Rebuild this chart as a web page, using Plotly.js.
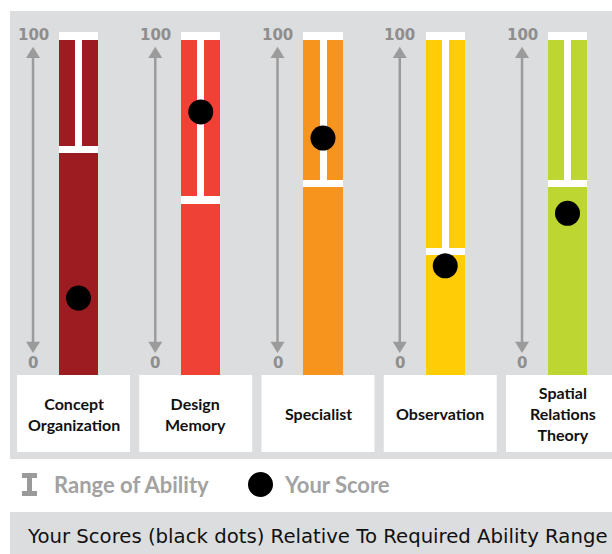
<!DOCTYPE html>
<html>
<head>
<meta charset="utf-8">
<script src="https://cdn.plot.ly/plotly-3.0.1.min.js"></script>
<style>
  html, body { margin: 0; padding: 0; background: #ffffff; }
  #chart { width: 612px; height: 554px; }
</style>
</head>
<body>
<div id="chart"></div>
<script>
// ---- data ----
const categories = ['Concept<br>Organization', 'Design<br>Memory', 'Specialist', 'Observation', 'Spatial<br>Relations<br>Theory'];
const rangeLow = [66.5, 51.6, 56.5, 36.5, 56.5];
const rangeHigh = [100, 100, 100, 100, 100];
const yourScore = [22.7, 77.6, 69.9, 32.2, 47.7];
const tickValues = [0, 100];
const tickLabels = ['0', '100'];
const legendLabels = ['Range of Ability', 'Your Score'];
const chartTitle = 'Your Scores (black dots) Relative To Required Ability Range';

// ---- styles ----
const barColors = ['#9d1c21', '#ef4136', '#f7941d', '#ffcc05', '#bdd631'];
const panelGray = '#dcdddf';
const arrowGray = '#9b9b9b';
const W = 612, H = 554;
const px = v => v / W;
const py = v => 1 - v / H;

const idx = categories.map((_, i) => i);
const barW = 0.323, stemW = 0.0573;

const traces = [
  { type: 'bar', x: idx, y: rangeHigh, base: idx.map(() => 0), width: barW,
    marker: { color: barColors, line: { width: 0 } }, hoverinfo: 'skip', showlegend: false },
  { type: 'bar', x: idx, y: rangeHigh.map((h, i) => h - rangeLow[i]), base: rangeLow, width: stemW,
    marker: { color: '#ffffff', line: { width: 0 } }, hoverinfo: 'skip', showlegend: false },
  { type: 'bar', x: idx, y: rangeHigh.map(() => 2.4), base: rangeHigh.map(h => h - 1.2), width: barW,
    marker: { color: '#ffffff', line: { width: 0 } }, hoverinfo: 'skip', showlegend: false },
  { type: 'bar', x: idx, y: rangeLow.map(() => 2.2), base: rangeLow.map(l => l - 1.1), width: barW,
    marker: { color: '#ffffff', line: { width: 0 } }, hoverinfo: 'skip', showlegend: false },
  { type: 'scatter', mode: 'markers', x: idx, y: yourScore,
    marker: { color: '#000000', size: 25, line: { width: 0 } }, hoverinfo: 'skip', showlegend: false }
];

const shapes = [
  { type: 'rect', xref: 'paper', yref: 'paper', x0: px(10), x1: 1, y0: py(459), y1: py(11),
    fillcolor: panelGray, line: { width: 0 }, layer: 'below' },
  { type: 'rect', xref: 'paper', yref: 'paper', x0: px(10), x1: 1, y0: 0, y1: py(512),
    fillcolor: panelGray, line: { width: 0 }, layer: 'below' }
];
const annotations = [];
const axOff = -0.372;
idx.forEach(i => {
  shapes.push({ type: 'rect', xref: 'x', yref: 'y', x0: i - 0.503, x1: i + 0.421, y0: -22.7, y1: 0,
    fillcolor: '#ffffff', line: { width: 0 }, layer: 'below' });
  const ax = i + axOff;
  shapes.push({ type: 'line', xref: 'x', yref: 'y', x0: ax, x1: ax, y0: 9.5, y1: 94,
    line: { color: arrowGray, width: 2.5 }, layer: 'below' });
  const hw = 0.0573, hh = 3.3;
  shapes.push({ type: 'path', xref: 'x', yref: 'y',
    path: `M ${ax - hw} ${93.5} L ${ax + hw} ${93.5} L ${ax} ${93.5 + hh} Z`,
    fillcolor: arrowGray, line: { width: 0 }, layer: 'below' });
  shapes.push({ type: 'path', xref: 'x', yref: 'y',
    path: `M ${ax - hw} ${9.8} L ${ax + hw} ${9.8} L ${ax} ${9.8 - hh} Z`,
    fillcolor: arrowGray, line: { width: 0 }, layer: 'below' });
  tickValues.forEach((tv, k) => {
    annotations.push({ x: ax, y: tv, xref: 'x', yref: 'y', text: '<b>' + tickLabels[k] + '</b>',
      showarrow: false, xanchor: 'center', yanchor: 'middle', yshift: tv === 0 ? 12 : 1,
      font: { family: 'DejaVu Sans', size: 15, color: '#8e8e8e' } });
  });
  annotations.push({ x: i, y: -11.36, xref: 'x', yref: 'y', xshift: -5, text: '<b>' + categories[i] + '</b>',
    showarrow: false, xanchor: 'center', yanchor: 'middle',
    font: { family: 'Lato', size: 16, color: '#111111' } });
});

// legend: I-beam icon
shapes.push({ type: 'rect', xref: 'paper', yref: 'paper', x0: px(22), x1: px(37), y0: py(478), y1: py(473),
  fillcolor: '#9a9a9a', line: { width: 0 } });
shapes.push({ type: 'rect', xref: 'paper', yref: 'paper', x0: px(27), x1: px(32), y0: py(492), y1: py(477),
  fillcolor: '#9a9a9a', line: { width: 0 } });
shapes.push({ type: 'rect', xref: 'paper', yref: 'paper', x0: px(22), x1: px(37), y0: py(496), y1: py(491),
  fillcolor: '#9a9a9a', line: { width: 0 } });
shapes.push({ type: 'circle', xref: 'paper', yref: 'paper', x0: px(248), x1: px(273), y0: py(497), y1: py(472),
  fillcolor: '#000000', line: { width: 0 } });
annotations.push({ xref: 'paper', yref: 'paper', x: px(52), y: py(484), text: '<b>' + legendLabels[0] + '</b>',
  showarrow: false, xanchor: 'left', yanchor: 'middle', font: { family: 'Lato', size: 22, color: '#a2a2a2' } });
annotations.push({ xref: 'paper', yref: 'paper', x: px(282), y: py(484), text: '<b>' + legendLabels[1] + '</b>',
  showarrow: false, xanchor: 'left', yanchor: 'middle', font: { family: 'Lato', size: 22, color: '#a2a2a2' } });
annotations.push({ xref: 'paper', yref: 'paper', x: px(317.5), y: py(536), text: chartTitle,
  showarrow: false, xanchor: 'center', yanchor: 'middle', font: { family: 'DejaVu Sans', size: 19.7, color: '#111111' } });

const layout = {
  width: W, height: H,
  margin: { l: 0, r: 0, t: 0, b: 0, pad: 0 },
  paper_bgcolor: '#ffffff', plot_bgcolor: 'rgba(0,0,0,0)',
  barmode: 'overlay', bargap: 0,
  showlegend: false,
  xaxis: { range: [-0.6421, 4.3640], visible: false, fixedrange: true },
  yaxis: { range: [-52.80, 110.62], visible: false, fixedrange: true },
  shapes: shapes, annotations: annotations
};

Plotly.newPlot('chart', traces, layout, { displayModeBar: false, staticPlot: true });
</script>
</body>
</html>
